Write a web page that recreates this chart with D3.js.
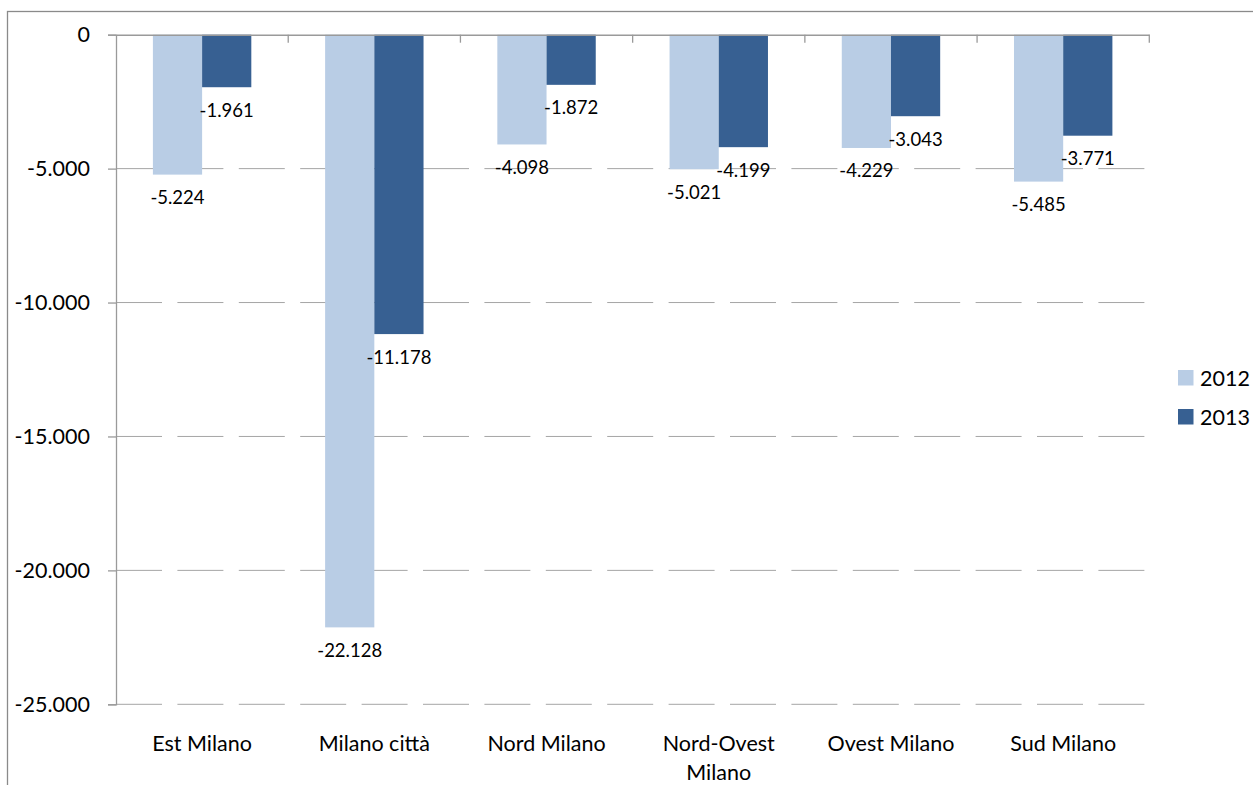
<!DOCTYPE html>
<html>
<head>
<meta charset="utf-8">
<script src="https://cdn.jsdelivr.net/npm/d3@7"></script>
<style>
  html, body { margin: 0; padding: 0; background: #fff; }
  svg { display: block; font-family: Lato, "Open Sans", sans-serif; }
</style>
</head>
<body>
<svg id="chart" width="1253" height="785"></svg>
<script>
// Saldo per zona, 2012 e 2013
const categories = ["Est Milano", "Milano città", "Nord Milano", "Nord-Ovest Milano", "Ovest Milano", "Sud Milano"];
const seriesNames = ["2012", "2013"];
const values2012 = [-5224, -22128, -4098, -5021, -4229, -5485];
const values2013 = [-1961, -11178, -1872, -4199, -3043, -3771];
const yTicks = [0, -5000, -10000, -15000, -20000, -25000];
const colors = ["#b9cde5", "#376092"];

const seriesValues = [values2012, values2013];

const it = d3.formatLocale({ decimal: ",", thousands: ".", grouping: [3], currency: ["", " €"], minus: "-" });
const fmt = it.format(",d");

const svg = d3.select("#chart");
const W = 1253, H = 785;

// outer chart frame
svg.append("rect")
  .attr("x", 7.5).attr("y", 11.5)
  .attr("width", W + 20).attr("height", H + 20)
  .attr("fill", "none").attr("stroke", "#8a8a8a").attr("stroke-width", 1.3);

const plot = { left: 116, right: 1149.3, top: 34.7, bottom: 704.3 };

const y = d3.scaleLinear().domain([0, -25000]).range([plot.top, plot.bottom]);
const x0 = d3.scaleBand().domain(categories).range([plot.left, plot.right]).padding(0);
const x1 = d3.scaleBand().domain(seriesNames).range([0, x0.bandwidth()]).paddingInner(0).paddingOuter(0.75);

// dashed gridlines
svg.append("g").selectAll("line")
  .data(yTicks.filter(t => t !== 0))
  .join("line")
  .attr("x1", plot.left).attr("x2", plot.right)
  .attr("y1", d => y(d)).attr("y2", d => y(d))
  .attr("stroke", "#a6a6a6").attr("stroke-width", 1)
  .attr("stroke-dasharray", "46,15.4");

// value axis
const yAxis = d3.axisLeft(y).tickValues(yTicks).tickFormat(fmt).tickSize(8).tickPadding(18);
const gy = svg.append("g").attr("transform", `translate(${plot.left},0)`).call(yAxis);
gy.select(".domain").attr("stroke", "#9a9a9a").attr("stroke-width", 1.3);
gy.selectAll(".tick line").attr("stroke", "#9a9a9a").attr("stroke-width", 1.3);
gy.selectAll(".tick text")
  .attr("fill", "#000").attr("font-size", 21.5).attr("font-family", "Lato, sans-serif");

// bars
const groups = svg.append("g").selectAll("g")
  .data(categories)
  .join("g")
  .attr("transform", d => `translate(${x0(d)},0)`);

groups.selectAll("rect")
  .data((c, i) => seriesNames.map((s, k) => ({ s, k, v: seriesValues[k][i] })))
  .join("rect")
  .attr("x", d => x1(d.s))
  .attr("width", x1.bandwidth())
  .attr("y", y(0))
  .attr("height", d => y(d.v) - y(0))
  .attr("fill", d => colors[d.k]);

// category axis along the zero line, ticks pointing down
const xAxis = d3.axisBottom(x0).tickSize(0).tickFormat("");
const gx = svg.append("g").attr("transform", `translate(0,${y(0)})`).call(xAxis);
gx.select(".domain").attr("stroke", "#9a9a9a").attr("stroke-width", 1.5);
gx.selectAll(".tick").remove();
const bounds = categories.map(c => x0(c)).concat([plot.right]);
gx.selectAll("line.bound")
  .data(bounds.slice(1))
  .join("line")
  .attr("class", "bound")
  .attr("x1", d => d).attr("x2", d => d)
  .attr("y1", 0).attr("y2", 8)
  .attr("stroke", "#9a9a9a").attr("stroke-width", 1.3);

// value labels below each bar end
groups.selectAll("text.val")
  .data((c, i) => seriesNames.map((s, k) => ({ s, k, v: seriesValues[k][i] })))
  .join("text")
  .attr("class", "val")
  .attr("x", d => x1(d.s) + x1.bandwidth() / 2)
  .attr("y", d => y(d.v) + 23)
  .attr("dy", "0.35em")
  .attr("text-anchor", "middle")
  .attr("font-size", 18.5)
  .attr("fill", "#000")
  .text(d => fmt(d.v));

// category labels, wrapped to the band width
const catG = svg.append("g");
categories.forEach(c => {
  const t = catG.append("text")
    .attr("x", x0(c) + x0.bandwidth() / 2)
    .attr("y", 751)
    .attr("text-anchor", "middle")
    .attr("font-size", 21.5)
    .attr("fill", "#000");
  const words = c.split(" ");
  let line = [];
  let tspan = t.append("tspan").attr("x", x0(c) + x0.bandwidth() / 2).attr("dy", 0);
  let lineNo = 0;
  words.forEach(w => {
    line.push(w);
    tspan.text(line.join(" "));
    if (tspan.node().getComputedTextLength() > 150 && line.length > 1) {
      line.pop();
      tspan.text(line.join(" "));
      line = [w];
      lineNo++;
      tspan = t.append("tspan").attr("x", x0(c) + x0.bandwidth() / 2).attr("dy", 29).text(w);
    }
  });
});

// legend
const legend = svg.append("g").attr("transform", "translate(1178,370)");
seriesNames.forEach((s, k) => {
  const g = legend.append("g").attr("transform", `translate(0,${k * 39})`);
  g.append("rect").attr("width", 15.5).attr("height", 15.5).attr("fill", colors[k]);
  g.append("text").attr("x", 22).attr("y", 8).attr("dy", "0.35em")
    .attr("font-size", 21.5).attr("fill", "#000").text(s);
});
</script>
</body>
</html>
